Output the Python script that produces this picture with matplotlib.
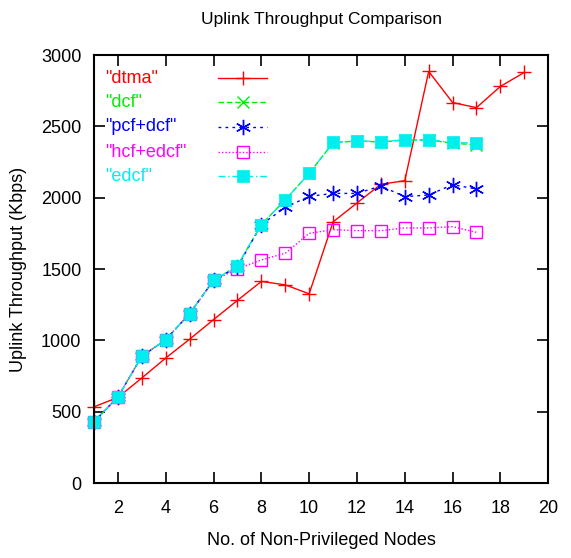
import matplotlib
matplotlib.use("Agg")
import matplotlib.pyplot as plt

plt.rcParams['font.family'] = ['Liberation Sans', 'DejaVu Sans']

# data
nodes_dtma = list(range(1, 20))
dtma = [534, 600, 736, 876, 1008, 1145, 1280, 1413, 1389, 1326,
        1830, 1963, 2094, 2119, 2885, 2667, 2631, 2780, 2878]

nodes = list(range(1, 18))
dcf = [430, 603, 888, 1005, 1187, 1420, 1522, 1811, 1986, 2170,
       2385, 2397, 2390, 2404, 2404, 2382, 2370]
pcf_dcf = [430, 603, 888, 1005, 1187, 1420, 1515, 1811, 1932, 2009,
           2030, 2030, 2082, 2007, 2019, 2091, 2061]
hcf_edcf = [430, 603, 888, 1005, 1187, 1420, 1501, 1564, 1610, 1750,
            1776, 1769, 1769, 1788, 1788, 1797, 1757]
edcf = [429, 603, 888, 1005, 1187, 1420, 1524, 1811, 1984, 2170,
        2387, 2399, 2392, 2406, 2406, 2387, 2382]

labels = ['"dtma"', '"dcf"', '"pcf+dcf"', '"hcf+edcf"', '"edcf"']

fig = plt.figure(figsize=(5.71, 5.58), dpi=100)
ax = fig.add_axes([0.1646, 0.1344, 0.7955, 0.767])

styles = [
    dict(color='#ff0000', ls='-', marker='+', ms=10, mew=1.0),
    dict(color='#00ee00', ls=(0, (4, 2)), marker='x', ms=8, mew=1.0),
    dict(color='#0000ff', ls=(0, (2, 3)), marker=(6, 2, 0), ms=11, mew=1.0),
    dict(color='#ff00ff', ls=(0, (1, 1.5)), marker='s', ms=8, mew=1.0, mfc='none'),
    dict(color='#00eeee', ls=(0, (5, 2, 1, 2)), marker='s', ms=8, mew=0.5),
]
series = [(nodes_dtma, dtma), (nodes, dcf), (nodes, pcf_dcf), (nodes, hcf_edcf), (nodes, edcf)]

for (xs, ys), st in zip(series, styles):
    ax.plot(xs, ys, lw=1.0, clip_on=False, **st)

# gnuplot style key: label left, line sample to the right
key_y = [0.946, 0.890, 0.832, 0.773, 0.717]
for lab, st, ky in zip(labels, styles, key_y):
    ax.text(0.024, ky, lab, transform=ax.transAxes, color=st['color'],
            fontsize=13, va='center', ha='left')
    line_st = {k: v for k, v in st.items() if k not in ('marker', 'ms', 'mew', 'mfc')}
    ax.plot([0.273, 0.381], [ky, ky], transform=ax.transAxes, lw=1.0, **line_st)
    mark_st = {k: v for k, v in st.items() if k != 'ls'}
    ax.plot([0.328], [ky], transform=ax.transAxes, ls='none', **mark_st)

ax.set_xlim(1, 20)
ax.set_ylim(0, 3000)
ax.set_xticks(range(2, 21, 2))
ax.set_yticks(range(0, 3001, 500))
ax.tick_params(direction='in', top=True, right=True, length=8, width=1.2,
               labelsize=13)
ax.tick_params(axis='x', pad=12)
ax.tick_params(axis='y', pad=9)
for sp in ax.spines.values():
    sp.set_linewidth(1.5)

ax.set_title('Uplink Throughput Comparison', fontsize=12.5, pad=22)
ax.set_xlabel('No. of Non-Privileged Nodes', fontsize=13, labelpad=11)
ax.set_ylabel('Uplink Throughput (Kbps)', fontsize=13, labelpad=10)

fig.savefig('out.png', dpi=100)
